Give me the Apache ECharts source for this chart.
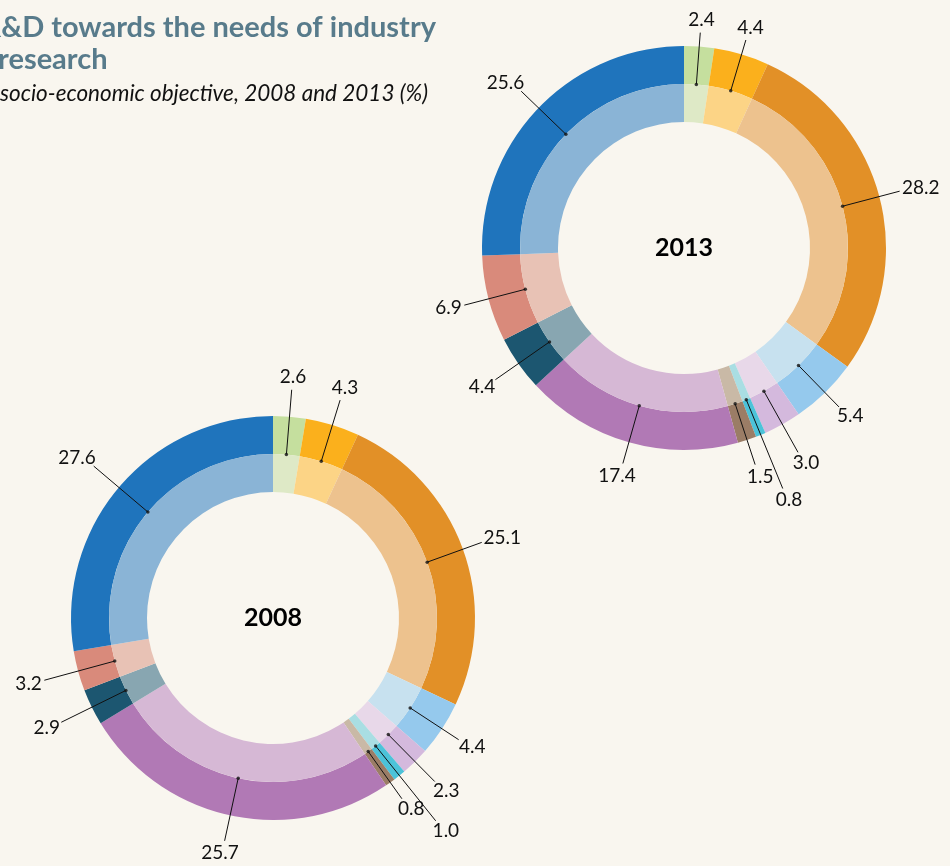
<!DOCTYPE html>
<html>
<head>
<meta charset="utf-8">
<script src="https://cdn.jsdelivr.net/npm/echarts@6/dist/echarts.min.js"></script>
<style>
  html, body { margin: 0; padding: 0; background: #f9f6ef; }
  #chart { width: 950px; height: 866px; }
</style>
</head>
<body>
<div id="chart"></div>
<script>
// segments, clockwise from 12 o'clock
const objectives = ['Objective 1', 'Objective 2', 'Objective 3', 'Objective 4', 'Objective 5', 'Objective 6',
                    'Objective 7', 'Objective 8', 'Objective 9', 'Objective 10', 'Objective 11']
const values2008 = [2.6, 4.3, 25.1, 4.4, 2.3, 1.0, 0.8, 25.7, 2.9, 3.2, 27.6]
const values2013 = [2.4, 4.4, 28.2, 5.4, 3.0, 0.8, 1.5, 17.4, 4.4, 6.9, 25.6]

// leader line length (px, beyond the inner ring) for each label
const leaders2008 = [65, 64, 58, 58, 66, 96, 58, 64, 72, 73, 71]
const leaders2013 = [52, 53, 59, 58, 70, 96, 64, 60, 66, 63, 62]

const outerColors = ['#c5df9e', '#fbb01c', '#e29027', '#95c9ed', '#d4b9dd', '#4cc3d9',
                     '#9b7d66', '#b179b5', '#1c5670', '#d98a7b', '#1f74bc']
const innerColors = ['#dee9c6', '#fcd486', '#edc28e', '#c7e1ef', '#e8d8e9', '#a9dee3',
                     '#c9b9a6', '#d6b8d5', '#88a6b1', '#e8c2b5', '#8ab4d6']

const center2008 = [273, 618]
const center2013 = [684, 248]
const R_HOLE = 126
const R_MID = 164
const R_OUT = 202
const FONT = 'Lato'

const chart = echarts.init(document.getElementById('chart'))

function rings (values, leaders, center, polarIndex) {
    const data = values.map((v, i) => ({ name: objectives[i], value: v }))
    const common = {
        type: 'pie',
        center: center,
        startAngle: 90,
        clockwise: true,
        silent: true,
        animation: false,
        avoidLabelOverlap: false,
        emphasis: { disabled: true },
        data: data
    }
    const outer = Object.assign({}, common, {
        z: 2,
        radius: [R_MID, R_OUT],
        label: { show: false },
        labelLine: { show: false },
        itemStyle: { borderWidth: 0, color: p => outerColors[p.dataIndex] }
    })
    const inner = Object.assign({}, common, {
        z: 5,
        radius: [R_HOLE, R_MID],
        itemStyle: { borderWidth: 0, color: p => innerColors[p.dataIndex] },
        label: {
            show: true,
            position: 'outside',
            formatter: p => p.value.toFixed(1),
            fontFamily: FONT,
            fontSize: 19,
            color: '#111'
        },
        labelLine: {
            show: true,
            length: 20,
            length2: 0,
            smooth: false,
            lineStyle: { color: '#111', width: 1 }
        },
        labelLayout: function (p) {
            const pts = p.labelLinePoints
            if (!pts) return {}
            const a = pts[0]
            const dx = a[0] - center[0]
            const dy = a[1] - center[1]
            const len = Math.hypot(dx, dy) || 1
            const ux = dx / len
            const uy = dy / len
            const L = leaders[p.dataIndex]
            const b = [a[0] + ux * L, a[1] + uy * L]
            const w = p.labelRect.width
            const h = p.labelRect.height
            return {
                x: b[0] + ux * (w / 2 + 3),
                y: b[1] + uy * (h / 2 + 3),
                align: 'center',
                verticalAlign: 'middle',
                labelLinePoints: [a, b]
            }
        }
    })
    // small dots where the leader lines start (mid-angle of each segment)
    let cum = 0
    const dotData = values.map(v => {
        const mid = cum + v / 2
        cum += v
        return [R_MID, mid]
    })
    const dots = {
        type: 'scatter',
        coordinateSystem: 'polar',
        polarIndex: polarIndex,
        silent: true,
        animation: false,
        z: 10,
        symbolSize: 3.5,
        itemStyle: { color: '#111' },
        data: dotData
    }
    return [outer, inner, dots]
}

const sum = arr => arr.reduce((s, v) => s + v, 0)

chart.setOption({
    backgroundColor: '#f9f6ef',
    polar: [
        { center: center2013, radius: R_OUT },
        { center: center2008, radius: R_OUT }
    ],
    angleAxis: [
        { polarIndex: 0, type: 'value', min: 0, max: sum(values2013), startAngle: 90, clockwise: true, show: false },
        { polarIndex: 1, type: 'value', min: 0, max: sum(values2008), startAngle: 90, clockwise: true, show: false }
    ],
    radiusAxis: [
        { polarIndex: 0, type: 'value', min: 0, max: R_OUT, show: false },
        { polarIndex: 1, type: 'value', min: 0, max: R_OUT, show: false }
    ],
    graphic: [
        {
            type: 'text', x: 436, y: 13,
            style: { text: 'R&D towards the needs of industry', align: 'right', fill: '#587b8b',
                     font: 'bold 29px ' + FONT }
        },
        {
            type: 'text', x: -2, y: 45,
            style: { text: 'research', align: 'left', fill: '#587b8b', font: 'bold 29px ' + FONT }
        },
        {
            type: 'text', x: 0, y: 82,
            style: { text: 'socio-economic objective, 2008 and 2013 (%)', align: 'left', fill: '#111',
                     font: 'italic 22.5px ' + FONT }
        },
        {
            type: 'text', x: center2013[0], y: center2013[1],
            style: { text: '2013', align: 'center', verticalAlign: 'middle', fill: '#000',
                     font: 'bold 25px ' + FONT }
        },
        {
            type: 'text', x: center2008[0], y: center2008[1],
            style: { text: '2008', align: 'center', verticalAlign: 'middle', fill: '#000',
                     font: 'bold 25px ' + FONT }
        }
    ],
    series: [].concat(
        rings(values2013, leaders2013, center2013, 0),
        rings(values2008, leaders2008, center2008, 1)
    )
})
</script>
</body>
</html>
